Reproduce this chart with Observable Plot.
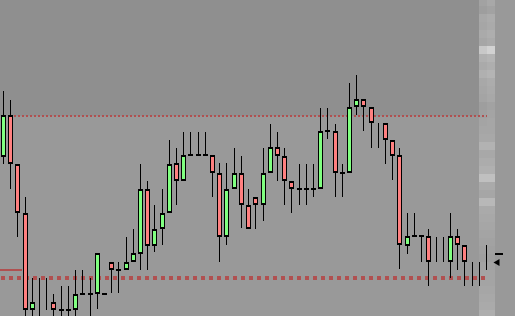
<!DOCTYPE html>
<html><head><meta charset="utf-8">
<script src="https://cdn.jsdelivr.net/npm/d3@7"></script>
<script src="https://cdn.jsdelivr.net/npm/@observablehq/plot@0.6"></script>
<style>html,body{margin:0;padding:0;background:#999999;overflow:hidden}</style>
</head><body><div id="chart"></div>
<script>
// Candle index 0..67, prices in chart points
const opens = [159.3,200.7,152,103.3,6,null,null,14,6,6,
  6,22,22,22,22,53.7,46,45.7,53.7,61.7,
  126.7,70.3,87,102.7,152.7,135.3,160.7,160.7,160.7,160.7,
  142.7,79.3,126.7,142.7,110.7,119,111,142.7,168.7,160,
  135.3,126.7,126.7,126.7,126.7,184.7,184.7,142.7,142.7,208.7,
  216.7,208.7,null,192.7,176,160.7,70.3,79.7,79.7,79.7,
  null,null,54.3,79.7,70.7,null,null,null];
const closes = [200.7,152,103.3,6,14,null,null,6,6,6,
  22,22,22,62.7,22,45.7,46,53.7,62.7,126.7,
  70.3,87,102.7,152,135.3,160.7,160.7,160.7,160.7,142.7,
  79.3,126.7,142.7,110.7,87,111,142.7,168.7,160,135.3,
  127,126.7,126.7,126.7,184.7,184.7,142.7,142.7,208.7,216.7,
  208.7,192.7,null,176,160,70.7,79.7,79.7,79.7,54.3,
  null,null,79.7,70.7,54.3,null,null,null];
const highs = [225,216,152,119,38.3,38.3,38,22,30,30,
  46,46,38,62.7,22,53.7,53.7,79.3,87,152,
  135,111,126.7,176,167.7,183.7,183.7,183.7,183.7,160.7,
  152.7,152.7,167.7,160,126.7,119,167.7,192,184,167.7,
  135.3,151.7,151.7,151.7,207.7,207.7,191.7,151.7,232.7,241,
  216.7,208.7,192.7,192.7,176,168,103,103,79.7,86.7,
  79,79,103,86.7,70.7,54.3,54.3,70.7];
const lows = [152,127.3,79.3,-6,-6,-6,6,-6,-6,-6,
  -6,22,-2,6.7,22,22.7,22.7,45.7,53.7,46,
  46,64,71,102.7,111,135.3,160.7,160.7,160.7,119.3,
  54.3,71,126.7,87.7,87,87,95,142.7,135.3,111,
  103.3,111,111,119.3,126.7,176.7,119.3,119.3,142.7,200.7,
  184.7,168.3,168.3,152.3,135.7,46.7,62,79.7,54.3,30.3,
  54.3,54.3,38.3,46.3,30.3,30.3,30.3,46.3];

// Horizontal levels: price, start index, end index
const levelPrices = [201, 39, 47];
const levelFrom = [1.53, -0.28, -0.42];
const levelTo = [67.14, 66.86, 2.6];

// Right-side strip shades, rows of 8 points from the top
const stripLeft = [162,158,168,166,170,166,200,176,170,176,168,166,164,158,160,164,166,168,178,168,
  172,176,192,170,166,184,170,168,166,164,162,160,158,162,164,164,166,168,170,174];
const stripRight = [168,162,172,170,174,170,210,180,174,180,172,170,168,162,164,166,166,168,178,168,
  172,176,192,170,166,184,170,168,166,164,162,160,158,162,164,164,166,168,170,174];

// Current price marker
const markerPrice = 63;
const arrowPrice = 54.5;

const candles = d3.range(opens.length).map(i => ({
  i, open: opens[i], close: closes[i], high: highs[i], low: lows[i]
}));
const bodies = candles.filter(d => d.open != null && d.open !== d.close);
const dojis = candles.filter(d => d.open != null && d.open === d.close);
const wicks = candles.filter(d => d.high !== d.low);

const stripRows = [];
stripLeft.forEach((v, k) => {
  stripRows.push({x1: 66.03, x2: 67.14, top: 318 - 8 * k, bottom: 310 - 8 * k, v});
  stripRows.push({x1: 67.14, x2: 68.25, top: 318 - 8 * k, bottom: 310 - 8 * k, v: stripRight[k]});
});

const levels = levelPrices.map((p, k) => ({p, from: levelFrom[k], to: levelTo[k], k}));
const grayFill = v => `rgb(${v},${v},${v})`;

const chart = Plot.plot({
  width: 515, height: 316,
  marginTop: 0, marginRight: 0, marginBottom: 0, marginLeft: 0,
  style: {background: "#999999", overflow: "hidden"},
  x: {domain: [0, 67], range: [3, 486], round: true, axis: null},
  y: {domain: [0, 316], range: [316, 0], round: true, axis: null},
  marks: [
    // darker zone above upper level
    Plot.rect([{x1: -0.5, x2: 66.03, y1: levelPrices[0] - 1, y2: 330}], {x1: "x1", x2: "x2", y1: "y1", y2: "y2", fill: "#8f8f8f"}),
    Plot.rect(stripRows, {x1: "x1", x2: "x2", y1: "bottom", y2: "top", fill: d => grayFill(d.v)}),
    Plot.ruleY([levels[0]], {y: "p", x1: "from", x2: "to", stroke: "#b05050", strokeWidth: 2, strokeDasharray: "2,2", dy: 0.5}),
    Plot.ruleY([levels[1]], {y: "p", x1: "from", x2: "to", stroke: "#b05050", strokeWidth: 4, strokeDasharray: "4,4", dy: 0.5}),
    Plot.ruleY([levels[2]], {y: "p", x1: "from", x2: "to", stroke: "#b05050", strokeWidth: 2, dy: 0.5}),
    Plot.ruleX(wicks, {x: "i", y1: "high", y2: "low", stroke: "black", strokeWidth: 1}),
    Plot.ruleX(bodies, {x: "i", y1: d => Math.max(d.open, d.close), y2: d => Math.min(d.open, d.close), stroke: "black", strokeWidth: 5}),
    Plot.ruleX(bodies, {x: "i", y1: d => Math.max(d.open, d.close), y2: d => Math.min(d.open, d.close), stroke: d => d.close > d.open ? "#80ff80" : "#ff8080", strokeWidth: 3, insetTop: 2, insetBottom: 2}),
    Plot.ruleX(dojis, {x: "i", y1: "open", y2: "open", stroke: "black", strokeWidth: 5, insetTop: -1, insetBottom: -1}),
    Plot.ruleY([markerPrice], {y: d => d, x1: 68.25, x2: 69.36, stroke: "black", strokeWidth: 2, dy: 0.5}),
    Plot.dot([arrowPrice], {x: 68.53, y: d => d, symbol: "triangle", rotate: -90, r: 2.6, fill: "black", stroke: "none"})
  ]
});
document.getElementById("chart").appendChild(chart);
</script>
</body></html>
